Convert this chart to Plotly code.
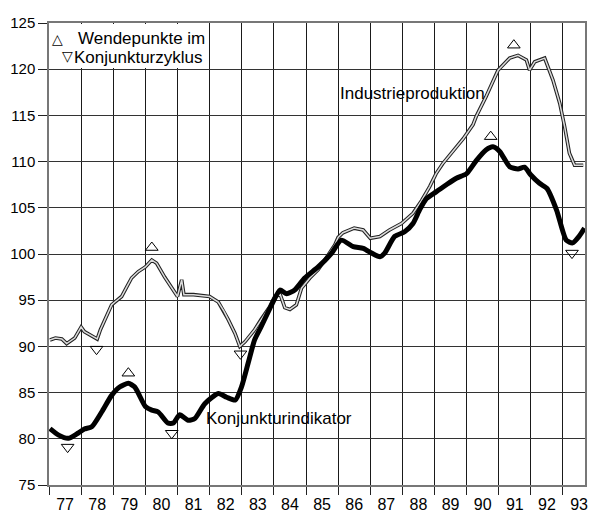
import plotly.graph_objects as go

# Industrieproduktion (decimal year, index)
ip_year = [77.03, 77.2, 77.4, 77.55, 77.8, 78.0, 78.1, 78.3, 78.5, 78.6, 78.8, 78.95, 79.05, 79.26,
           79.4, 79.57, 79.78, 80.0, 80.2, 80.35, 80.6, 80.87, 81.0, 81.13, 81.2, 81.5, 81.8, 82.0,
           82.27, 82.45, 82.58, 82.79, 82.94, 83.1, 83.4, 83.6, 83.87, 84.03, 84.2, 84.34, 84.5,
           84.7, 84.86, 85.12, 85.38, 85.69, 85.9, 86.0, 86.15, 86.5, 86.78, 87.0, 87.3, 87.6,
           87.97, 88.33, 88.6, 88.85, 89.05, 89.26, 89.58, 89.9, 90.2, 90.3, 90.6, 90.98, 91.34,
           91.6, 91.86, 91.96, 92.12, 92.43, 92.69, 92.9, 93.05, 93.2, 93.36, 93.63]
ip_value = [90.7, 90.9, 90.8, 90.3, 90.9, 92.1, 91.6, 91.2, 90.8, 91.8, 93.4, 94.5, 94.8, 95.4,
            96.3, 97.4, 98.1, 98.6, 99.35, 99.0, 97.5, 96.1, 95.4, 97.2, 95.6, 95.6, 95.5, 95.4,
            94.8, 93.8, 92.9, 91.4, 90.0, 90.5, 91.8, 92.9, 94.3, 95.4, 95.6, 94.2, 94.0,
            94.5, 96.3, 97.4, 98.3, 99.9, 101.0, 101.8, 102.3, 102.8, 102.6, 101.7, 101.9, 102.6,
            103.3, 104.4, 105.8, 107.3, 108.7, 109.8, 111.1, 112.5, 114.0, 114.9, 117.0, 119.9, 121.2,
            121.5, 121.0, 119.9, 120.8, 121.2, 118.8, 116.3, 113.8, 110.9, 109.6, 109.6]

# Konjunkturindikator
ki_year = [77.03, 77.3, 77.6, 77.9, 78.1, 78.33, 78.64, 78.95, 79.2, 79.47, 79.67, 80.0, 80.2,
           80.4, 80.7, 80.87, 81.07, 81.33, 81.54, 81.85, 82.27, 82.53, 82.8, 82.99, 83.2, 83.4,
           83.6, 83.93, 84.19, 84.4, 84.65, 84.96, 85.38, 85.8, 86.1, 86.47, 86.78, 87.04, 87.3,
           87.45, 87.76, 88.07, 88.33, 88.54, 88.75, 89.06, 89.37, 89.68, 90.0, 90.3, 90.6, 90.82,
           91.03, 91.34, 91.6, 91.8, 92.0, 92.27, 92.5, 92.8, 93.1, 93.3, 93.5, 93.67]
ki_value = [81.1, 80.4, 80.05, 80.6, 81.05, 81.3, 82.9, 84.7, 85.6, 86.0, 85.6, 83.5, 83.1,
            82.9, 81.7, 81.7, 82.6, 82.0, 82.2, 83.8, 84.9, 84.5, 84.2, 85.6, 88.2, 90.7,
            92.1, 94.5, 96.1, 95.7, 96.1, 97.4, 98.6, 100.1, 101.5, 100.8, 100.6, 100.1, 99.7,
            100.1, 101.9, 102.4, 103.3, 104.8, 106.0, 106.75, 107.5, 108.2, 108.7, 110.1, 111.25, 111.6,
            111.1, 109.45, 109.2, 109.4, 108.55, 107.65, 107.1, 104.75, 101.5, 101.2, 101.9, 102.8]

# Wendepunkte (turning points)
peak_year = [79.47, 80.2, 90.75, 91.47]
peak_value = [87.1, 100.7, 112.7, 122.6]
trough_year = [77.58, 78.48, 80.82, 82.96, 93.28]
trough_value = [79.1, 89.7, 80.6, 89.2, 100.1]

years = list(range(77, 94))
year_labels = [str(y) for y in years]
y_ticks = list(range(75, 126, 5))

X_MIN, X_MAX = 77, 93.685
FONT = "Liberation Sans, Arial, Helvetica, sans-serif"

fig = go.Figure()
fig.add_trace(go.Scatter(x=ip_year, y=ip_value, mode="lines",
                         line=dict(color="#222", width=3.6), hoverinfo="skip"))
fig.add_trace(go.Scatter(x=ip_year, y=ip_value, mode="lines",
                         line=dict(color="#dcdcdc", width=1.5), hoverinfo="skip"))
fig.add_trace(go.Scatter(x=ki_year, y=ki_value, mode="lines",
                         line=dict(color="#000", width=5, shape="spline", smoothing=0.6)))
fig.add_trace(go.Scatter(x=peak_year, y=peak_value, mode="markers", xaxis="x2",
                         marker=dict(symbol="triangle-up-open", size=11, color="#000",
                                     line=dict(width=1, color="#000"))))
fig.add_trace(go.Scatter(x=trough_year, y=trough_value, mode="markers", xaxis="x2",
                         marker=dict(symbol="triangle-down-open", size=11, color="#000",
                                     line=dict(width=1, color="#000"))))

fig.update_layout(
    width=589, height=514,
    margin=dict(l=49, r=4, t=23, b=29, autoexpand=False),
    paper_bgcolor="white", plot_bgcolor="white",
    showlegend=False,
    font=dict(family=FONT, size=16, color="#000"),
    xaxis=dict(range=[X_MIN, X_MAX], tickvals=years, showticklabels=False,
               ticks="outside", ticklen=8, tickcolor="#222", tickwidth=1,
               showgrid=True, gridcolor="#1a1a1a", gridwidth=1,
               showline=True, linecolor="#777", linewidth=1.5, mirror=True,
               zeroline=False, automargin=False),
    xaxis2=dict(range=[X_MIN, X_MAX], overlaying="x", anchor="y", side="bottom",
                tickvals=[y + 0.5 for y in years], ticktext=year_labels,
                ticks="outside", ticklen=5, tickcolor="rgba(0,0,0,0)",
                showgrid=False, zeroline=False, showline=False, automargin=False,
                tickfont=dict(family=FONT, size=16, color="#000")),
    yaxis=dict(range=[75, 125], tickvals=y_ticks, ticks="outside", ticklen=9,
               tickcolor="#222", showgrid=True, gridcolor="#333", gridwidth=1,
               showline=True, linecolor="#777", linewidth=1.5, mirror=True,
               zeroline=False, automargin=False,
               tickfont=dict(family=FONT, size=15, color="#000")),
)

# white box behind the legend text
fig.add_shape(type="rect", xref="x", yref="y", x0=77.03, x1=81.97, y0=120.12, y1=124.9,
              fillcolor="white", line=dict(width=0), layer="above")

def ann(text, x, y, anchor="left", size=17):
    fig.add_annotation(text=text, x=x, y=y, xref="x", yref="y", showarrow=False,
                       xanchor=anchor, yanchor="middle",
                       font=dict(family=FONT, size=size, color="#000"))

ann("△", 77.25, 123.27, anchor="center", size=14)
ann("Wendepunkte im", 77.85, 123.27)
ann("▽", 77.58, 121.4, anchor="center", size=14)
ann("Konjunkturzyklus", 77.72, 121.32)
ann("Industrieproduktion", 88.3, 117.4, anchor="center")
ann("Konjunkturindikator", 84.16, 82.25, anchor="center")

fig.write_html("out.html",
               config={"displayModeBar": False},
               post_script="document.body.style.margin='0';document.body.style.overflow='hidden';")
